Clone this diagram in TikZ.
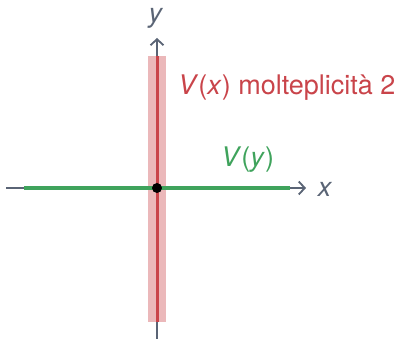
\documentclass[tikz,border=0pt]{standalone}
\usepackage{fontspec}
\setmainfont{TeX Gyre Heros}
\usetikzlibrary{arrows.meta}
\definecolor{axisgrey}{HTML}{5A6475}
\definecolor{vred}{HTML}{C9444A}
\definecolor{vband}{HTML}{EBB8BA}
\definecolor{vgreen}{HTML}{3FA35C}
\tikzset{
  axis/.style={draw=axisgrey, line width=1.8pt, -{Straight Barb[length=6pt,width=13pt,line width=1.8pt]}},
  lab/.style={inner sep=0pt, font=\fontsize{27}{31}\selectfont},
}
\begin{document}
\begin{tikzpicture}[x=1pt,y=-1pt]
\useasboundingbox (0,0) rectangle (397,339);
\coordinate (O) at (157,188);
% band
\fill[vband] (148,56) rectangle (166,322);
% axes
\coordinate (xs) at (6,188);
\coordinate (xe) at (306,188);
\coordinate (ys) at (157,339);
\coordinate (ye) at (157,38);
\draw[axis] (xs) -- (xe);
\draw[axis] (ys) -- (ye);
% lines
\coordinate (ra) at (157,56);
\coordinate (rb) at (157,322);
\draw[vred, line width=3pt] (ra) -- (rb);
\coordinate (ga) at (24,188);
\coordinate (gb) at (290,188);
\draw[vgreen, line width=3.2pt] (ga) -- (gb);
\fill[black] (O) circle (5);
% labels
\node[lab, text=axisgrey] (xl) at (325,189) {\textit{x}};
\node[lab, text=axisgrey, anchor=base] (yl) at (156,23) {\textit{y}};
\node[lab, text=vred, anchor=base west] (vx) at (178,95) {\textit{V}(\textit{x}) molteplicità 2};
\node[lab, text=vgreen, anchor=base west] (vy) at (221,167) {\textit{V}(\textit{y})};
\end{tikzpicture}
\end{document}
